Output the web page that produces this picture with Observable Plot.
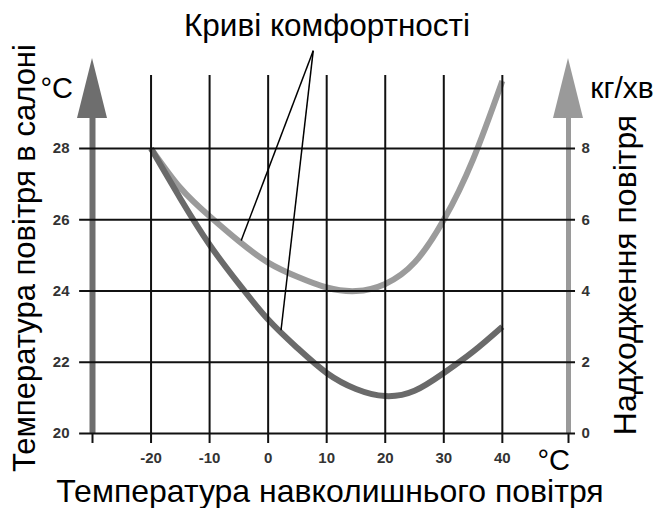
<!DOCTYPE html>
<html><head><meta charset="utf-8">
<script src="https://cdn.jsdelivr.net/npm/d3@7"></script>
<script src="https://cdn.jsdelivr.net/npm/@observablehq/plot@0.6"></script>
<style>body{margin:0;background:#fff;} svg{display:block}</style>
</head><body><div id="chart"></div>
<script>
// Outside air temperature (°C) sample points along the comfort curves
const outsideTemp = [-20, -15, -10, -5, 0, 5, 10, 15, 20, 25, 30, 35, 40];
// Cabin air temperature (°C), light curve
const lightCurve = [28, 26.9, 26.1, 25.4, 24.8, 24.4, 24.1, 24.0, 24.2, 24.8, 26.0, 27.7, 29.9];
// Cabin air temperature (°C), dark curve
const darkCurve = [28, 26.6, 25.3, 24.2, 23.2, 22.4, 21.7, 21.25, 21.05, 21.2, 21.7, 22.3, 23.0];
// Tick labels
const xTicks = [-20, -10, 0, 10, 20, 30, 40];
const yTicks = [20, 22, 24, 26, 28];
const airflowTicks = [0, 2, 4, 6, 8];
// Callout "Криві комфортності": origin and targets on the curves (data units)
const calloutOrigin = {x: 7.7, y: 30.75};
const calloutTargets = [{x: -4.6, y: 25.42}, {x: 2.2, y: 22.9}];

const xMin = -30, xMax = 51.3, yMin = 20, yMax = 30.53;
const gridX1 = -32.2, gridX2 = 52.5, gridY1 = 19.72, gridY2 = 30.05;
const font = "Liberation Sans, Arial, sans-serif";

const light = outsideTemp.map((x, i) => ({x, y: lightCurve[i]}));
const dark = outsideTemp.map((x, i) => ({x, y: darkCurve[i]}));
const tickStyle = {tickSize: 0, label: null, fontSize: 15, fontWeight: "bold", fill: "#333"};

const plot = Plot.plot({
  width: 659, height: 508,
  marginTop: 58, marginBottom: 75, marginLeft: 92, marginRight: 91,
  style: {fontFamily: font, background: "#fff"},
  x: {domain: [xMin, xMax]},
  y: {domain: [yMin, yMax]},
  marks: [
    // axis shafts
    Plot.ruleX([xMin], {y1: yMin, y2: 28.9, stroke: "#6e6e6e", strokeWidth: 6}),
    Plot.ruleX([xMax], {y1: yMin, y2: 28.9, stroke: "#9a9a9a", strokeWidth: 5}),
    // curves
    Plot.line(light, {x: "x", y: "y", curve: "natural", stroke: "#9b9b9b", strokeWidth: 6, strokeLinecap: "butt"}),
    Plot.line(dark, {x: "x", y: "y", curve: "natural", stroke: "#6a6a6a", strokeWidth: 6, strokeLinecap: "butt"}),
    // grid
    Plot.ruleY(yTicks, {x1: gridX1, x2: gridX2, stroke: "#111", strokeWidth: 2}),
    Plot.ruleX(xTicks, {y1: gridY1, y2: gridY2, stroke: "#111", strokeWidth: 2}),
    Plot.ruleX([xMin, xMax], {y1: gridY1, y2: yMin, stroke: "#111", strokeWidth: 2}),
    // callout lines
    Plot.link(calloutTargets, {x1: () => calloutOrigin.x, y1: () => calloutOrigin.y, x2: "x", y2: "y", stroke: "#000", strokeWidth: 1.5}),
    // axes
    Plot.axisX(xTicks, {...tickStyle, tickPadding: 19, tickFormat: (d) => String(d)}),
    Plot.axisY(yTicks, {...tickStyle, anchor: "left", tickPadding: 23}),
    Plot.axisY(yTicks, {...tickStyle, anchor: "right", tickPadding: 13,
      tickFormat: (d) => airflowTicks[yTicks.indexOf(d)]})
  ]
});

document.getElementById("chart").appendChild(plot);
const svg = d3.select(plot);
const xs = plot.scale("x"), ys = plot.scale("y");

// arrow heads
[[xMin, "#6e6e6e"], [xMax, "#9a9a9a"]].forEach(([v, c]) => {
  const px = xs.apply(v), tip = ys.apply(yMax), base = tip + 60;
  svg.insert("path", ":first-child")
    .attr("d", `M${px},${tip}L${px - 15},${base}L${px + 15},${base}Z`)
    .attr("fill", c);
});
svg.insert("rect", ":first-child").attr("width", 659).attr("height", 508).attr("fill", "#fff");

function label(txt, x, y, size, opts = {}) {
  const t = svg.append("text").text(txt)
    .attr("font-family", font).attr("font-size", size).attr("fill", "#000")
    .attr("text-anchor", opts.anchor || "middle");
  if (opts.rotate) t.attr("transform", `translate(${x},${y}) rotate(-90)`);
  else t.attr("x", x).attr("y", y);
}
label("Криві комфортності", 327, 36, 31.5);
label("Температура повітря в салоні", 35, 258, 31, {rotate: true});
label("Надходження повітря", 636, 275, 32, {rotate: true});
label("Температура навколишнього повітря", 330, 502, 32);
label("°C", 73, 98, 29, {anchor: "end"});
label("кг/хв", 622, 98, 30);
label("°C", 570, 470, 29, {anchor: "end"});
</script>
</body></html>
